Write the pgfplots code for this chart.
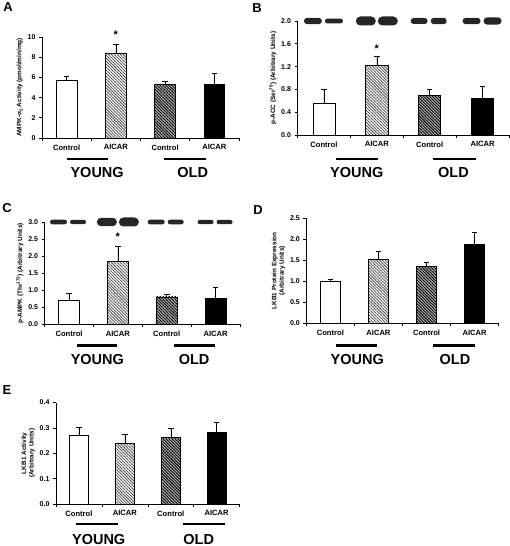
\documentclass[border=0pt]{standalone}
\usepackage{fontspec}
\setmainfont{Liberation Sans}
\usepackage{pgfplots}
\pgfplotsset{compat=1.18}
\usetikzlibrary{patterns.meta}

\tikzset{
  bA/.style={fill=white},
  bB/.style={fill=white, postaction={pattern color=gray!55!black, pattern={Lines[angle=-45,distance=2.1pt,line width=0.75pt]}}},
  bC/.style={fill=gray!55, postaction={pattern color=black, pattern={Lines[angle=-45,distance=2.1pt,line width=0.9pt]}}},
  bD/.style={fill=black},
}

\pgfplotsset{
  panel/.style={
    scale only axis, ybar, clip=false,
    axis lines=left, axis line style={-, line width=0.6pt},
    xmin=0.5, xmax=4.5, ymin=0,
    xtick={1,2,3,4}, xticklabels={Control,AICAR,Control,AICAR},
    minor xtick={0.5,1.5,2.5,3.5,4.5},
    major x tick style={draw=none},
    tick align=outside, major tick length=3pt, minor tick length=3pt,
    every tick/.style={line width=0.6pt, black},
    x tick label style={font=\bfseries\fontsize{7.6}{8}\selectfont},
    y tick label style={font=\bfseries\fontsize{7}{8}\selectfont},
    /pgf/number format/assume math mode=true,
    ylabel style={font=\bfseries\fontsize{6.4}{7.4}\selectfont, align=center},
    ylabel shift=-2pt,
  },
  onedec/.style={yticklabel style={/pgf/number format/.cd, fixed, fixed zerofill, precision=1}},
}

\newcommand{\onebar}[4]{%
  \addplot[#1, bar shift=0pt, bar width=0.42, draw=black, line width=0.6pt,
    error bars/.cd, y dir=plus, y explicit,
    error bar style={line width=0.5pt, black},
    error mark options={black, rotate=90, mark size=2.8pt, line width=0.6pt}]
    coordinates {(#2,#3) +- (0,#4)};
}
\newcommand{\bars}[8]{%
  \onebar{bA}{1}{#1}{#2}
  \onebar{bB}{2}{#3}{#4}
  \onebar{bC}{3}{#5}{#6}
  \onebar{bD}{4}{#7}{#8}
}
\newcommand{\groups}[8]{%
  \draw[line width=2.6pt] ([yshift=-#7]axis cs:#1,0) -- ([yshift=-#7]axis cs:#2,0);
  \draw[line width=2.6pt] ([yshift=-#7]axis cs:#3,0) -- ([yshift=-#7]axis cs:#4,0);
  \node[font=\bfseries\fontsize{14.5}{15}\selectfont, inner sep=0pt] at ([yshift=-#8]axis cs:#5,0) {YOUNG};
  \node[font=\bfseries\fontsize{14.5}{15}\selectfont, inner sep=0pt] at ([yshift=-#8]axis cs:#6,0) {OLD};
}
\newcommand{\blot}[5]{%
  \fill[black!85, rounded corners=#5pt] ([xshift=#2pt, yshift=-#5pt]axis cs:#1,#4) rectangle ([xshift=#3pt, yshift=#5pt]axis cs:#1,#4);
}
\newcommand{\sigstar}[2]{%
  \node[font=\bfseries\fontsize{11}{11}\selectfont, inner sep=0pt] at (axis cs:#1,#2) {*};
}

\begin{document}
\begin{tikzpicture}
\useasboundingbox (0pt,0pt) rectangle (510pt,546pt);

\node[font=\bfseries\fontsize{13}{13}\selectfont] at (8pt,539pt) {A};
\node[font=\bfseries\fontsize{13}{13}\selectfont] at (257pt,538pt) {B};
\node[font=\bfseries\fontsize{13}{13}\selectfont] at (7pt,338pt) {C};
\node[font=\bfseries\fontsize{13}{13}\selectfont] at (258pt,336pt) {D};
\node[font=\bfseries\fontsize{13}{13}\selectfont] at (7pt,156pt) {E};

% ---------- A ----------
\begin{axis}[panel, at={(42pt,408pt)}, anchor=south west, width=197pt, height=101pt,
  ymax=10, ytick={0,2,4,6,8,10},
  ylabel={AMPK-α\textsubscript{2} Activity (pmol/min/mg)}]
\bars{5.75}{0.40}{8.40}{0.85}{5.33}{0.33}{5.33}{1.10}
\sigstar{2}{10.2}
\groups{1.0}{1.85}{2.97}{3.82}{1.62}{3.56}{21pt}{35pt}
\end{axis}

% ---------- B ----------
\begin{axis}[panel, onedec, at={(297.5pt,411pt)}, anchor=south west, width=211.5pt, height=114pt,
  ymax=2, ytick={0,0.4,0.8,1.2,1.6,2.0},
  ylabel={p-ACC (Ser\textsuperscript{79}) (Arbitrary Units)}]
\bars{0.55}{0.25}{1.22}{0.16}{0.69}{0.12}{0.645}{0.21}
\sigstar{2}{1.52}
\blot{1}{-20}{-2}{2.0}{3.2}
\blot{1}{1}{19}{2.0}{2.4}
\blot{2}{-21}{-1}{2.0}{4.5}
\blot{2}{1}{21}{2.0}{4.5}
\blot{3}{-19}{-2}{2.0}{3}
\blot{3}{1}{17}{2.0}{3.2}
\blot{4}{-20}{-2}{2.0}{3.2}
\blot{4}{1}{19}{2.0}{3.6}
\groups{1.23}{2.02}{3.07}{3.87}{1.62}{3.45}{24pt}{38pt}
\end{axis}

% ---------- C ----------
\begin{axis}[panel, onedec, at={(44.6pt,221.5pt)}, anchor=south west, width=195.4pt, height=102.5pt,
  ymax=3, ytick={0,0.5,1,1.5,2,2.5,3},
  ylabel={p-AMPK (Thr\textsuperscript{172}) (Arbitrary Units)}]
\bars{0.71}{0.20}{1.85}{0.44}{0.81}{0.08}{0.76}{0.33}
\sigstar{2}{2.58}
\blot{1}{-19}{-2}{3.0}{2.3}
\blot{1}{1}{17}{3.0}{2.1}
\blot{2}{-21}{-1}{3.0}{4.2}
\blot{2}{1}{21}{3.0}{4.5}
\blot{3}{-19}{-2}{3.0}{2.3}
\blot{3}{1}{17}{3.0}{2.3}
\blot{4}{-18}{-2}{3.0}{2.1}
\blot{4}{1}{17}{3.0}{2.1}
\groups{1.16}{1.99}{3.15}{3.99}{1.58}{3.56}{21pt}{35pt}
\end{axis}

% ---------- D ----------
\begin{axis}[panel, onedec, at={(306.3pt,222.7pt)}, anchor=south west, width=192.4pt, height=105pt,
  ymax=2.5, ytick={0,0.5,1,1.5,2,2.5},
  ylabel={LKB1 Protein Expression\\(Arbitrary Units)}]
\bars{1.01}{0.04}{1.52}{0.19}{1.35}{0.11}{1.88}{0.28}
\groups{1.12}{1.98}{3.14}{4.01}{1.56}{3.59}{22pt}{36pt}
\end{axis}

% ---------- E ----------
\begin{axis}[panel, onedec, at={(56pt,42pt)}, anchor=south west, width=183.6pt, height=101.5pt,
  ymax=0.4, ytick={0,0.1,0.2,0.3,0.4},
  ylabel={LKB1 Activity\\(Arbitrary Units)}]
\bars{0.271}{0.033}{0.239}{0.034}{0.264}{0.033}{0.281}{0.042}
\groups{0.93}{1.86}{3.27}{4.18}{1.43}{3.61}{20pt}{36pt}
\end{axis}
\end{tikzpicture}
\end{document}
